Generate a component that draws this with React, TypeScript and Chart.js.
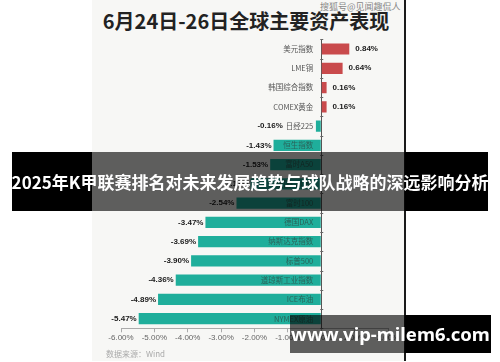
import React, { useEffect, useRef } from "react";
import { Chart, registerables } from "chart.js";
Chart.register(...registerables);

const titleText = "6月24日-26日全球主要资产表现";
const categories = [
  "美元指数",
  "LME铜",
  "韩国综合指数",
  "COMEX黄金",
  "日经225",
  "恒生指数",
  "富时A50",
  "法国CAC40",
  "富时100",
  "德国DAX",
  "纳斯达克指数",
  "标普500",
  "道琼斯工业指数",
  "ICE布油",
  "NYMEX原油",
];
const changes = [0.84, 0.64, 0.16, 0.16, -0.16, -1.43, -1.53, -2.12, -2.54, -3.47, -3.69, -3.9, -4.36, -4.89, -5.47];
const xTicks = [-6, -5, -4, -3, -2, -1, 0, 1, 2];
const sourceText = "数据来源：Wind";
const watermarkText = "搜狐号@见闻趣侃人";
const bannerText = "2025年K甲联赛排名对未来发展趋势与球队战略的深远影响分析";
const siteText = "www.vip-milem6.com";

const RED = "#c94a4c";
const TEAL = "#1fae9b";
const CJK = '"Noto Sans CJK SC", "Noto Sans", sans-serif';

const labelPlugin = {
  id: "barLabels",
  afterDatasetsDraw(chart: any) {
    const { ctx, scales } = chart;
    const x = scales.x;
    const y = scales.y;
    const meta = chart.getDatasetMeta(0);
    const x0 = x.getPixelForValue(0);
    ctx.save();
    ctx.textBaseline = "middle";
    meta.data.forEach((bar: any, i: number) => {
      const v = changes[i];
      const yc = bar.y;
      const catRight = x0 - 8;
      ctx.font = `7.5px ${CJK}`;
      const catW = ctx.measureText(categories[i]).width;
      const onBar = v < 0 && bar.x < catRight - catW;
      ctx.textAlign = "right";
      ctx.fillStyle = onBar ? "rgba(45,80,74,0.8)" : "#555";
      ctx.fillText(categories[i], catRight, yc);
      ctx.font = 'bold 8px "Liberation Sans", Arial, sans-serif';
      ctx.fillStyle = "#1a1a1a";
      const label = v.toFixed(2) + "%";
      if (v >= 0) {
        ctx.textAlign = "left";
        ctx.fillText(label, bar.x + 6, yc);
      } else {
        ctx.textAlign = "right";
        ctx.fillText(label, Math.min(bar.x - 2, catRight - catW - 3), yc);
      }
    });
    // small ticks on zero axis at row boundaries
    const n = categories.length;
    const step = (y.bottom - y.top) / n;
    ctx.strokeStyle = "#666";
    ctx.lineWidth = 1;
    for (let i = 0; i <= n; i++) {
      const yy = Math.round(y.getPixelForValue(0) - step / 2 + i * step) + 0.5;
      ctx.beginPath();
      ctx.moveTo(x0 - 1, yy);
      ctx.lineTo(x0 + 2, yy);
      ctx.stroke();
    }
    ctx.restore();
  },
};

export default function App() {
  const ref = useRef<HTMLCanvasElement | null>(null);
  useEffect(() => {
    if (!ref.current) return;
    const chart = new Chart(ref.current, {
      type: "bar",
      data: {
        labels: categories,
        datasets: [
          {
            data: changes,
            backgroundColor: changes.map((v) => (v >= 0 ? RED : TEAL)),
            borderWidth: 0,
            barPercentage: 0.58,
            categoryPercentage: 1,
          },
        ],
      },
      options: {
        indexAxis: "y",
        animation: false,
        responsive: false,
        maintainAspectRatio: false,
        layout: { padding: { top: 39.4, bottom: 11.7, left: 121, right: 112 } },
        plugins: { legend: { display: false }, tooltip: { enabled: false }, title: { display: false } },
        scales: {
          y: { display: false, offset: true, grid: { display: false } },
          x: {
            min: -6,
            max: 2,
            afterBuildTicks: (scale: any) => {
              scale.ticks = xTicks.map((v) => ({ value: v }));
            },
            afterFit: (scale: any) => {
              scale.height = 22;
            },
            border: { display: true, color: "#aaa", width: 1 },
            grid: {
              drawOnChartArea: true,
              drawTicks: true,
              tickLength: 4,
              color: (c: any) => (c.tick && c.tick.value === 0 ? "#555" : "rgba(0,0,0,0)"),
              tickColor: "#aaa",
            },
            ticks: {
              padding: 1,
              color: "#666",
              font: { size: 8, family: '"Liberation Sans", Arial, sans-serif' },
              callback: (v: any) => Number(v).toFixed(2) + "%",
              maxRotation: 0,
              autoSkip: false,
            },
          },
        },
      },
      plugins: [labelPlugin],
    });
    return () => chart.destroy();
  }, []);

  const abs = (s: React.CSSProperties): React.CSSProperties => ({ position: "absolute", ...s });

  return (
    <div style={{ position: "fixed", left: 0, top: 0, width: 500, height: 362, background: "#fff", overflow: "hidden" }}>
      <div style={abs({ left: 92, top: 0, width: 312, height: 361, background: "#f7f7f5", borderRight: "2px solid #1a1a1a" })} />
      <div
        style={abs({
          left: 90,
          top: 8,
          width: 312,
          textAlign: "center",
          fontFamily: CJK,
          fontWeight: 700,
          fontSize: 20,
          lineHeight: "26px",
          color: "#222",
        })}
      >
        {titleText}
      </div>
      <div style={abs({ left: 320, top: 1, fontFamily: CJK, fontSize: 9, color: "#888", lineHeight: "12px" })}>{watermarkText}</div>
      <canvas ref={ref} width={500} height={362} style={abs({ left: 0, top: 0, width: 500, height: 362 })} />
      <div style={abs({ left: 106, top: 347, fontFamily: CJK, fontSize: 8, color: "#aaa", lineHeight: "14px" })}>{sourceText}</div>
      {/* banner 1 */}
      <div style={abs({ left: 12, top: 152, width: 80, height: 59, background: "#000" })} />
      <div style={abs({ left: 92, top: 152, width: 313, height: 59, background: "rgba(0,0,0,0.62)" })} />
      <div style={abs({ left: 405, top: 152, width: 83, height: 59, background: "#000" })} />
      <div
        style={abs({
          left: 0,
          top: 152,
          width: 500,
          height: 59,
          lineHeight: "59px",
          textAlign: "center",
          color: "#fff",
          fontFamily: CJK,
          fontWeight: 700,
          fontSize: 17,
          whiteSpace: "nowrap",
        })}
      >
        {bannerText}
      </div>
      {/* banner 2 */}
      <div style={abs({ left: 290, top: 315, width: 115, height: 38, background: "rgba(0,0,0,0.62)" })} />
      <div style={abs({ left: 405, top: 315, width: 86, height: 38, background: "#000" })} />
      <div
        style={abs({
          left: 290,
          top: 315,
          width: 201,
          height: 38,
          lineHeight: "38px",
          textAlign: "center",
          color: "#fff",
          fontFamily: '"Noto Sans", "Open Sans", sans-serif',
          fontWeight: 700,
          fontSize: 18.5,
          whiteSpace: "nowrap",
        })}
      >
        {siteText}
      </div>
    </div>
  );
}
